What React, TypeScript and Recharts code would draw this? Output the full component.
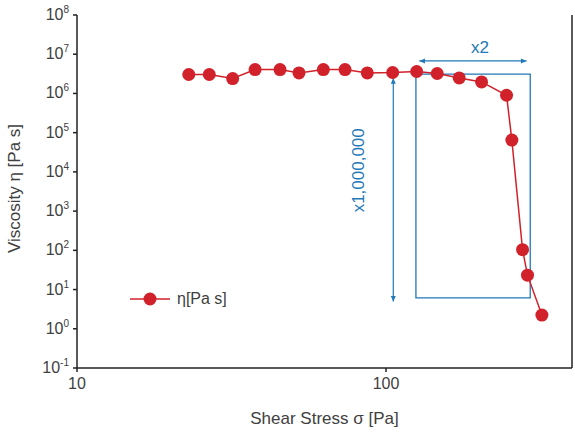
import React from 'react';
import {
  LineChart,
  Line,
  XAxis,
  YAxis,
  ReferenceLine,
  ReferenceDot,
  ReferenceArea,
  Legend,
} from 'recharts';

// Measured data: shear stress [Pa] and viscosity [Pa s]
const shearStress = [23, 26.8, 31.9, 37.7, 45.4, 52.3, 62.7, 73.7, 87, 105.1, 125.7, 146.5, 172.6, 203.9, 245.6, 255.5, 276.7, 287.1, 319.6];
const viscosity = [3.04e6, 3.04e6, 2.4e6, 4.07e6, 4.07e6, 3.34e6, 4.07e6, 4.07e6, 3.34e6, 3.42e6, 3.63e6, 3.22e6, 2.49e6, 1.97e6, 9.0e5, 6.47e4, 104, 23.3, 2.23];

const xTicks = [10, 100];
const xDomain = [10, 400];
const yTicks = [0.1, 1, 10, 100, 1e3, 1e4, 1e5, 1e6, 1e7, 1e8];
const yDomain = [0.1, 1e8];

// Annotations (data coordinates)
const boxX = [125, 293];
const boxY = [6.15, 3.1e6];
const vArrowX = 105.6;
const vArrowY = [4.96, 2.45e6];
const hArrowY = 6.75e6;
const hArrowX = [128.2, 285.1];
const vLabel = { x: 81.2, y: 1.1e4, text: 'x1,000,000' };
const hLabel = { x: 201.4, y: 1.5e7, text: 'x2' };

const seriesName = 'η[Pa s]';
const xLabel = 'Shear Stress σ [Pa]';
const yLabel = 'Viscosity η [Pa s]';

const data = shearStress.map((s, i) => ({ s, eta: viscosity[i] }));

const RED = '#d1222b';
const BLUE = '#1f78b8';
const TEXT = '#404040';
const AXIS = '#222';
const FONT = 'Liberation Sans, Arial, sans-serif';

const YTick = (props: any) => {
  const { x, y, payload } = props;
  const exp = Math.round(Math.log10(payload.value));
  return (
    <text x={x} y={y} dy={5} textAnchor="end" fill={TEXT} fontSize={16} fontFamily={FONT}>
      <tspan>10</tspan>
      <tspan dy={-7} fontSize={10}>{exp}</tspan>
    </text>
  );
};

const XTick = (props: any) => {
  const { x, y, payload } = props;
  return (
    <text x={x} y={y} dy={13} textAnchor="middle" fill={TEXT} fontSize={16} fontFamily={FONT}>
      {payload.value}
    </text>
  );
};

const arrowHead = (dir: 'up' | 'down' | 'left' | 'right') => (props: any) => {
  const { cx, cy } = props;
  const s = 4;
  let pts = '';
  if (dir === 'up') pts = `${cx},${cy} ${cx - s / 1.6},${cy + s * 1.4} ${cx + s / 1.6},${cy + s * 1.4}`;
  if (dir === 'down') pts = `${cx},${cy} ${cx - s / 1.6},${cy - s * 1.4} ${cx + s / 1.6},${cy - s * 1.4}`;
  if (dir === 'left') pts = `${cx},${cy} ${cx + s * 1.4},${cy - s / 1.6} ${cx + s * 1.4},${cy + s / 1.6}`;
  if (dir === 'right') pts = `${cx},${cy} ${cx - s * 1.4},${cy - s / 1.6} ${cx - s * 1.4},${cy + s / 1.6}`;
  return <polygon points={pts} fill={BLUE} />;
};

const textShape = (text: string, rotate: boolean) => (props: any) => {
  const { cx, cy } = props;
  return (
    <text
      x={cx}
      y={cy}
      textAnchor="middle"
      dominantBaseline="central"
      fill={BLUE}
      fontSize={17}
      fontFamily={FONT}
      transform={rotate ? `rotate(-90, ${cx}, ${cy})` : undefined}
    >
      {text}
    </text>
  );
};

const LegendContent = () => (
  <svg width={150} height={24}>
    <line x1={10} y1={12} x2={50} y2={12} stroke={RED} strokeWidth={1.5} />
    <circle cx={30} cy={12} r={6.5} fill={RED} />
    <text x={57} y={12} dy={5} fill={TEXT} fontSize={16} fontFamily={FONT}>
      {seriesName}
    </text>
  </svg>
);

export default function App() {
  return (
    <div style={{ position: 'absolute', left: 0, top: 0 }}>
      <LineChart width={575} height={433} data={data} margin={{ top: 15, right: 3, left: 0, bottom: 0 }}>
        <XAxis
          dataKey="s"
          type="number"
          scale="log"
          domain={xDomain}
          ticks={xTicks}
          allowDataOverflow
          height={65}
          tick={<XTick />}
          tickSize={4}
          tickMargin={4}
          axisLine={{ stroke: AXIS, strokeWidth: 1.5 }}
          tickLine={{ stroke: AXIS, strokeWidth: 1.5 }}
          label={{ value: xLabel, position: 'insideBottom', offset: 9, fill: TEXT, fontSize: 17, fontFamily: FONT }}
        />
        <YAxis
          type="number"
          scale="log"
          domain={yDomain}
          ticks={yTicks}
          allowDataOverflow
          width={77}
          tick={<YTick />}
          tickSize={4}
          tickMargin={4}
          axisLine={{ stroke: AXIS, strokeWidth: 1.5 }}
          tickLine={{ stroke: AXIS, strokeWidth: 1.5 }}
          label={{ value: yLabel, angle: -90, position: 'insideLeft', offset: 14, dy: -3, fill: TEXT, fontSize: 17, fontFamily: FONT, style: { textAnchor: 'middle' } }}
        />
        <ReferenceLine x={xDomain[1]} stroke={AXIS} strokeWidth={1.5} ifOverflow="visible" />
        <ReferenceArea x1={boxX[0]} x2={boxX[1]} y1={boxY[0]} y2={boxY[1]} fill="none" fillOpacity={0} stroke={BLUE} strokeWidth={1.3} ifOverflow="visible" />
        <ReferenceLine segment={[{ x: vArrowX, y: vArrowY[0] }, { x: vArrowX, y: vArrowY[1] }]} stroke={BLUE} strokeWidth={1.2} ifOverflow="visible" />
        <ReferenceLine segment={[{ x: hArrowX[0], y: hArrowY }, { x: hArrowX[1], y: hArrowY }]} stroke={BLUE} strokeWidth={1.2} ifOverflow="visible" />
        <ReferenceDot x={vArrowX} y={vArrowY[1]} r={4} shape={arrowHead('up')} ifOverflow="visible" />
        <ReferenceDot x={vArrowX} y={vArrowY[0]} r={4} shape={arrowHead('down')} ifOverflow="visible" />
        <ReferenceDot x={hArrowX[0]} y={hArrowY} r={4} shape={arrowHead('left')} ifOverflow="visible" />
        <ReferenceDot x={hArrowX[1]} y={hArrowY} r={4} shape={arrowHead('right')} ifOverflow="visible" />
        <ReferenceDot x={vLabel.x} y={vLabel.y} r={4} shape={textShape(vLabel.text, true)} ifOverflow="visible" />
        <ReferenceDot x={hLabel.x} y={hLabel.y} r={4} shape={textShape(hLabel.text, false)} ifOverflow="visible" />
        <Line
          dataKey="eta"
          name={seriesName}
          stroke={RED}
          strokeWidth={1.5}
          dot={{ r: 6.5, fill: RED, stroke: RED, strokeWidth: 0 }}
          activeDot={false}
          isAnimationActive={false}
        />
        <Legend
          layout="vertical"
          align="center"
          verticalAlign="middle"
          content={<LegendContent />}
          wrapperStyle={{ left: 120, top: 287, width: 150, height: 24 }}
        />
      </LineChart>
    </div>
  );
}
